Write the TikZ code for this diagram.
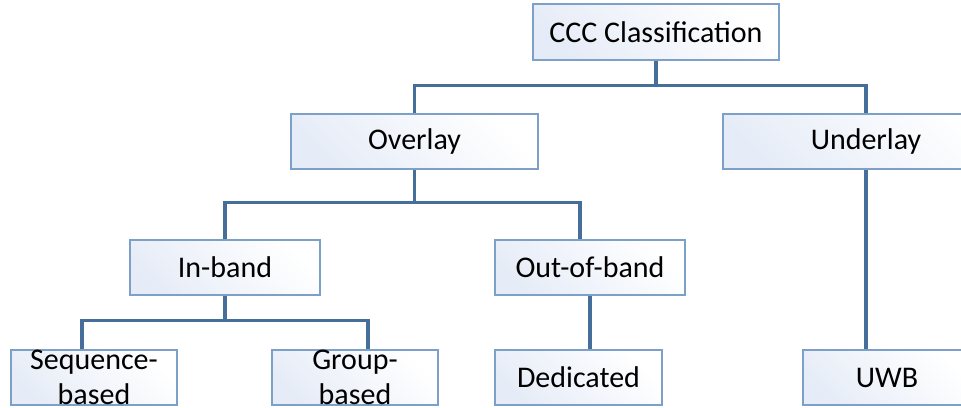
\documentclass[tikz,border=0pt]{standalone}
\usepackage{fontspec}
\setmainfont{Carlito}
\definecolor{boxline}{RGB}{125,160,200}
\definecolor{boxfill}{RGB}{230,236,247}
\definecolor{conncol}{RGB}{70,110,155}
\tikzset{
  box/.style={draw=boxline, line width=1.2pt, inner sep=0pt, shading=axis, left color=boxfill, right color=white, shading angle=135,
    font=\fontsize{30}{35}\selectfont, align=center, text=black},
  conn/.style={draw=conncol, line width=3.6pt}
}
\begin{document}
\begin{tikzpicture}[x=1pt,y=-1pt]
\useasboundingbox (0,0) rectangle (961,407);
\clip (0,0) rectangle (961,407);
\node[box, minimum width=246, minimum height=56] (ccc) at (656,32) {CCC Classification};
\node[box, minimum width=247, minimum height=55] (over) at (414.5,141.5) {Overlay};
\node[box, minimum width=286, minimum height=55] (und) at (866,141.5) {Underlay};
\node[box, minimum width=190, minimum height=55] (inb) at (225,267.5) {In-band};
\node[box, minimum width=190, minimum height=55] (outb) at (590,267.5) {Out-of-band};
\node[box, minimum width=166, minimum height=55] (seq) at (94,377.5) {Sequence-\\based};
\node[box, minimum width=166, minimum height=55] (grp) at (355,377.5) {Group-\\based};
\node[box, minimum width=167, minimum height=55] (ded) at (578.5,377.5) {Dedicated};
\node[box, minimum width=168, minimum height=55] (uwb) at (887,377.5) {UWB};
% connectors
\draw[conn] (ccc.south) -- ++(0,26);
\draw[conn] (over.north) -- ++(0,-28) -| (und.north);
\draw[conn] (over.south) -- ++(0,34);
\draw[conn] (inb.north) -- ++(0,-37) -| ([xshift=-10pt]outb.north);
\draw[conn] (outb.south) -- (ded.north -| outb.south);
\draw[conn] (und.south) -- (und.south |- uwb.north);
\draw[conn] (inb.south) -- ++(0,26);
\draw[conn] (seq.north) ++(-12,0) -- ++(0,-29) -| ([xshift=13pt]grp.north);
\end{tikzpicture}
\end{document}
